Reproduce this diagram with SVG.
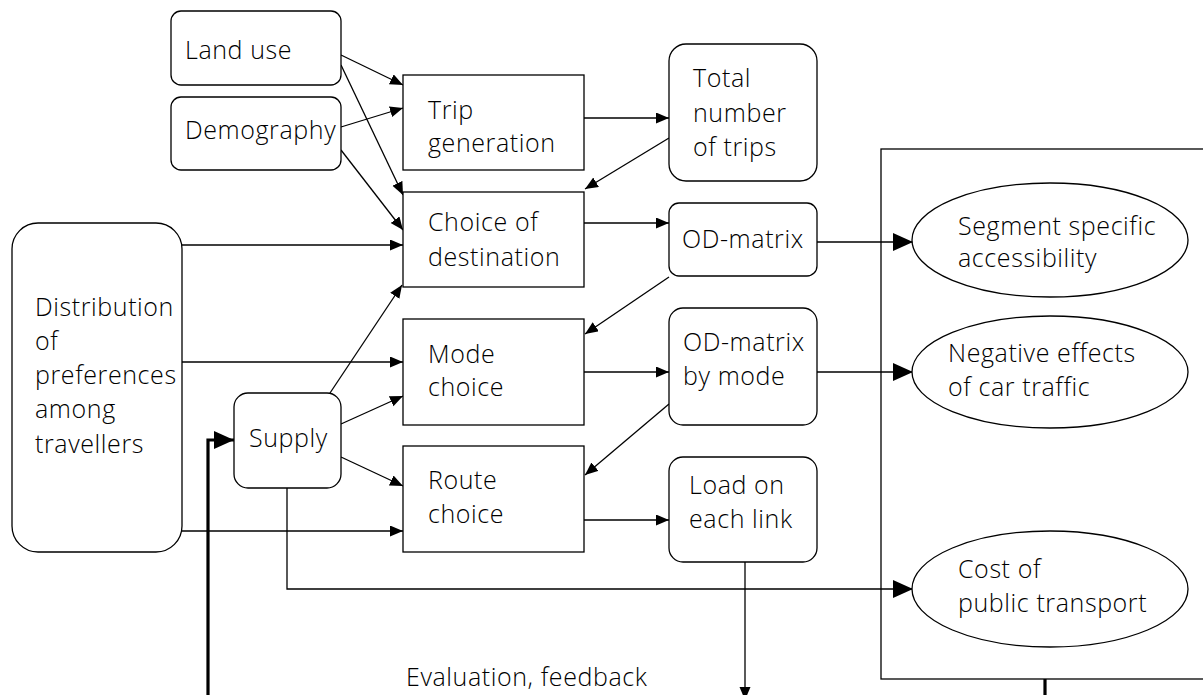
<svg xmlns="http://www.w3.org/2000/svg" width="1203" height="695" viewBox="0 0 1203 695">
  <defs>
    <style>
      .box { fill: #fff; stroke: #000; stroke-width: 1.3; }
      .lbl { font-family: "Open Sans", "Noto Sans", "DejaVu Sans", sans-serif; font-size: 25px; font-weight: 300; letter-spacing: 0.6px; fill: #000; }
      .edge { fill: none; stroke: #000; stroke-width: 1.3; }
      .thick { fill: none; stroke: #000; stroke-width: 3.2; }
    </style>
    <marker id="arr" markerUnits="userSpaceOnUse" markerWidth="14" markerHeight="12" refX="13" refY="5.5" orient="auto">
      <path d="M0,0 L13,5.5 L0,11 z" fill="#000"/>
    </marker>
    <marker id="arrBig" markerUnits="userSpaceOnUse" markerWidth="21" markerHeight="19" refX="20" refY="9" orient="auto">
      <path d="M0,0 L20,9 L0,18 z" fill="#000"/>
    </marker>
  </defs>

  <rect width="1203" height="695" fill="#fff"/>

  <!-- connectors -->
  <g id="connectors">
    <line class="edge" x1="341" y1="55" x2="403" y2="85" marker-end="url(#arr)"/>
    <line class="edge" x1="341" y1="65" x2="403" y2="195" marker-end="url(#arr)"/>
    <line class="edge" x1="341" y1="127" x2="403" y2="108" marker-end="url(#arr)"/>
    <line class="edge" x1="341" y1="150" x2="403" y2="230" marker-end="url(#arr)"/>
    <line class="edge" x1="584" y1="118" x2="669" y2="118" marker-end="url(#arr)"/>
    <line class="edge" x1="669" y1="138" x2="585" y2="189" marker-end="url(#arr)"/>
    <line class="edge" x1="584" y1="223" x2="669" y2="223" marker-end="url(#arr)"/>
    <line class="edge" x1="817" y1="242" x2="913" y2="242" marker-end="url(#arrBig)"/>
    <line class="edge" x1="669" y1="277" x2="585" y2="334" marker-end="url(#arr)"/>
    <line class="edge" x1="182" y1="245" x2="403" y2="245" marker-end="url(#arr)"/>
    <line class="edge" x1="182" y1="362" x2="403" y2="362" marker-end="url(#arr)"/>
    <line class="edge" x1="330" y1="393" x2="402" y2="285" marker-end="url(#arr)"/>
    <line class="edge" x1="341" y1="424" x2="403" y2="396" marker-end="url(#arr)"/>
    <line class="edge" x1="584" y1="372" x2="669" y2="372" marker-end="url(#arr)"/>
    <line class="edge" x1="817" y1="372" x2="913" y2="372" marker-end="url(#arrBig)"/>
    <line class="edge" x1="669" y1="404" x2="585" y2="475" marker-end="url(#arr)"/>
    <line class="edge" x1="341" y1="457" x2="403" y2="486" marker-end="url(#arr)"/>
    <line class="edge" x1="182" y1="531" x2="403" y2="531" marker-end="url(#arr)"/>
    <line class="edge" x1="584" y1="520" x2="669" y2="520" marker-end="url(#arr)"/>
    <polyline class="edge" points="287,488 287,589 913,589" marker-end="url(#arrBig)"/>
    <line class="edge" x1="745" y1="562" x2="745" y2="700" marker-end="url(#arr)"/>
    <polyline class="thick" points="208,700 208,440 234,440" marker-end="url(#arrBig)"/>
    <line class="thick" x1="1045" y1="679" x2="1045" y2="700"/>
  </g>

  <!-- evaluation frame -->
  <g id="evaluation">
    <rect x="881" y="149" width="340" height="530" fill="none" stroke="#000" stroke-width="1.3"/>
  </g>

  <g id="landuse">
    <rect class="box" x="171" y="11" width="170" height="74" rx="10"/>
    <text class="lbl" x="185" y="59">Land use</text>
  </g>
  <g id="demography">
    <rect class="box" x="171" y="97" width="170" height="73" rx="10"/>
    <text class="lbl" x="185" y="139">Demography</text>
  </g>
  <g id="tripgen">
    <rect class="box" x="403" y="75" width="181" height="95"/>
    <text class="lbl" x="428" y="119">Trip</text>
    <text class="lbl" x="428" y="152">generation</text>
  </g>
  <g id="totaltrips">
    <rect class="box" x="669" y="44" width="148" height="137" rx="17"/>
    <text class="lbl" x="693" y="87">Total</text>
    <text class="lbl" x="693" y="122">number</text>
    <text class="lbl" x="693" y="156">of trips</text>
  </g>
  <g id="destination">
    <rect class="box" x="403" y="192" width="181" height="95"/>
    <text class="lbl" x="428" y="231">Choice of</text>
    <text class="lbl" x="428" y="266">destination</text>
  </g>
  <g id="odmatrix">
    <rect class="box" x="669" y="203" width="148" height="73" rx="10"/>
    <text class="lbl" x="682" y="248">OD-matrix</text>
  </g>
  <g id="preferences">
    <rect class="box" x="12" y="223" width="170" height="329" rx="26"/>
    <text class="lbl" x="35" y="316">Distribution</text>
    <text class="lbl" x="35" y="350">of</text>
    <text class="lbl" x="35" y="384">preferences</text>
    <text class="lbl" x="35" y="418">among</text>
    <text class="lbl" x="35" y="453">travellers</text>
  </g>
  <g id="modechoice">
    <rect class="box" x="403" y="319" width="181" height="106"/>
    <text class="lbl" x="428" y="363">Mode</text>
    <text class="lbl" x="428" y="396">choice</text>
  </g>
  <g id="odbymode">
    <rect class="box" x="669" y="308" width="148" height="117" rx="14"/>
    <text class="lbl" x="683" y="351">OD-matrix</text>
    <text class="lbl" x="683" y="385">by mode</text>
  </g>
  <g id="supply">
    <rect class="box" x="234" y="393" width="107" height="95" rx="14"/>
    <text class="lbl" x="249" y="447">Supply</text>
  </g>
  <g id="routechoice">
    <rect class="box" x="403" y="446" width="181" height="106"/>
    <text class="lbl" x="428" y="489">Route</text>
    <text class="lbl" x="428" y="523">choice</text>
  </g>
  <g id="linkload">
    <rect class="box" x="669" y="457" width="148" height="105" rx="14"/>
    <text class="lbl" x="689" y="494">Load on</text>
    <text class="lbl" x="689" y="528">each link</text>
  </g>
  <g id="accessibility">
    <ellipse class="box" cx="1050" cy="240" rx="138" ry="57"/>
    <text class="lbl" x="958" y="235">Segment specific</text>
    <text class="lbl" x="958" y="267">accessibility</text>
  </g>
  <g id="cartraffic">
    <ellipse class="box" cx="1050" cy="372" rx="138" ry="56"/>
    <text class="lbl" x="948" y="362">Negative effects</text>
    <text class="lbl" x="948" y="396">of car traffic</text>
  </g>
  <g id="ptcost">
    <ellipse class="box" cx="1050" cy="589" rx="138" ry="58"/>
    <text class="lbl" x="958" y="578">Cost of</text>
    <text class="lbl" x="958" y="612">public transport</text>
  </g>

  <text class="lbl" x="406" y="686">Evaluation, feedback</text>
</svg>
